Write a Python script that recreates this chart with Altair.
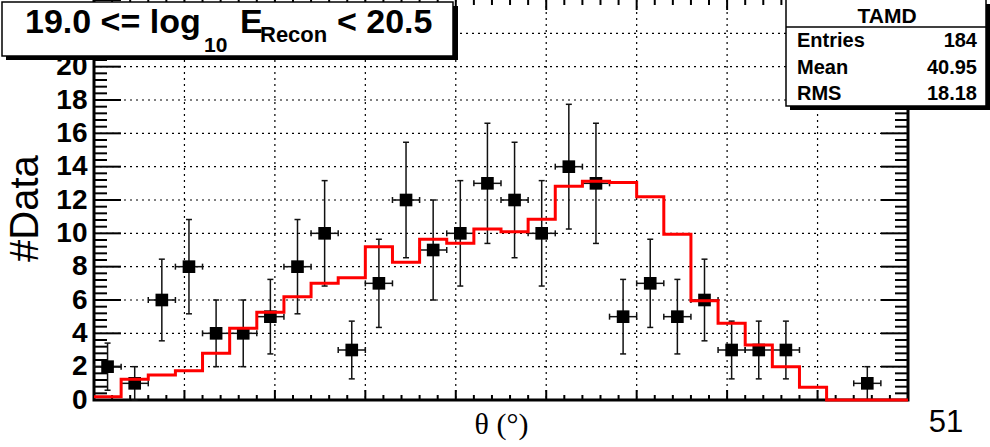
import altair as alt
import numpy as np
import pandas as pd

# ---- histogram contents -------------------------------------------------
bin_width = 3.0
theta_min, theta_max = 0.0, 90.0
y_max = 24.0

# observed counts per 3-degree bin
data_counts = [2, 1, 6, 8, 4, 4, 5, 8, 10, 3, 7, 12, 9, 10, 13,
               12, 10, 14, 13, 5, 7, 5, 6, 3, 3, 3, 0, 0, 1, 0]
# normalised simulation per bin
mc_counts = [0.20, 1.24, 1.50, 1.76, 2.80, 4.30, 5.27, 6.20, 7.00, 7.34,
             9.20, 8.26, 9.64, 9.40, 10.26, 10.10, 10.84, 12.83, 13.13, 13.05,
             12.20, 9.94, 5.95, 4.60, 3.30, 2.00, 0.76, 0.00, 0.00, 0.00]

y_label_values = [0, 2, 4, 6, 8, 10, 12, 14, 16, 18, 20]
x_grid_values = [10, 20, 30, 40, 50, 60, 70, 80]
y_grid_values = [2, 4, 6, 8, 10, 12, 14, 16, 18, 20, 22]
x_major_ticks = [0, 10, 20, 30, 40, 50, 60, 70, 80, 90]
y_major_ticks = [0, 2, 4, 6, 8, 10, 12, 14, 16, 18, 20, 22, 24]

title_parts = ["19.0 <= log", "10", "E", "Recon", "< 20.5"]
stats_title = ["TAMD"]
stats_names = ["Entries", "Mean", "RMS"]
stats_values = ["184", "40.95", "18.18"]
page_number = ["51"]
x_title = "θ (°)"
y_title = "#Data"

# ---- derived tables -----------------------------------------------------
n_bins = len(data_counts)
counts = np.array(data_counts, dtype=float)
centers = theta_min + bin_width * (np.arange(n_bins) + 0.5)
errs = np.sqrt(counts)
pts = pd.DataFrame({
    "c": centers, "n": counts,
    "lo": counts - errs, "hi": counts + errs,
    "xlo": centers - bin_width / 2, "xhi": centers + bin_width / 2,
})
pts = pts[pts["n"] > 0]

edges = theta_min + bin_width * np.arange(n_bins + 1)
mc = pd.DataFrame({"x": edges, "y": mc_counts + [mc_counts[-1]]})

x_minor = [v for v in np.arange(theta_min, theta_max + 0.01, 2.0) if v % 10 != 0]
y_minor = [round(v, 2) for v in np.arange(0, y_max + 0.01, 0.4)
           if abs(v / 2 - round(v / 2)) > 1e-6]

W, H = 814, 400
FONT = "Liberation Sans"

xs = alt.Scale(domain=[theta_min, theta_max], nice=False, zero=False)
ys = alt.Scale(domain=[0, y_max], nice=False, zero=True)

x_axis = alt.Axis(labels=False, ticks=False, tickSize=0, domain=False, grid=False,
                  title=x_title, titleFont="Liberation Serif", titleFontSize=30,
                  titleFontWeight="normal", titleColor="black",
                  titleBaseline="alphabetic", titleY=33)
y_axis = alt.Axis(values=y_label_values, ticks=False, tickSize=0, domain=False,
                  grid=False, labelFont=FONT, labelFontSize=28,
                  labelFontWeight="bold", labelColor="black", labelPadding=7,
                  title=y_title, titleFont=FONT, titleFontSize=40,
                  titleFontWeight="normal", titleColor="black", titleAngle=270,
                  titleAlign="center", titleBaseline="alphabetic",
                  titleX=-57, titleY=208)


def X(field):
    return alt.X(field, type="quantitative", scale=xs, axis=x_axis)


def Y(field):
    return alt.Y(field, type="quantitative", scale=ys, axis=y_axis)


one = pd.DataFrame({"k": [0]})


def vals(v):
    return pd.DataFrame({"v": v})


def txt(s):
    return pd.DataFrame({"t": s})


dotted = dict(color="black", strokeWidth=1.2, strokeDash=[2, 4])

# dotted grid
grid_x = alt.Chart(vals(x_grid_values)).mark_rule(**dotted).encode(
    x=X("v"), y=alt.value(0), y2=alt.value(H))
grid_y = alt.Chart(vals(y_grid_values)).mark_rule(**dotted).encode(
    y=Y("v"), x=alt.value(0), x2=alt.value(W))

# ticks drawn inward on all four sides
tick_style = dict(color="black", strokeWidth=2)
ticks = []
for values, length in ((y_major_ticks, 27), (y_minor, 13)):
    ticks.append(alt.Chart(vals(values)).mark_rule(**tick_style).encode(
        y=Y("v"), x=alt.value(0), x2=alt.value(length)))
    ticks.append(alt.Chart(vals(values)).mark_rule(**tick_style).encode(
        y=Y("v"), x=alt.value(W - length), x2=alt.value(W)))
for values, length in ((x_major_ticks, 10), (x_minor, 5)):
    ticks.append(alt.Chart(vals(values)).mark_rule(**tick_style).encode(
        x=X("v"), y=alt.value(H - length), y2=alt.value(H)))
    ticks.append(alt.Chart(vals(values)).mark_rule(**tick_style).encode(
        x=X("v"), y=alt.value(0), y2=alt.value(length)))

frame = alt.Chart(one).mark_rect(fillOpacity=0, stroke="black", strokeWidth=3).encode(
    x=alt.value(0), x2=alt.value(W), y=alt.value(-6), y2=alt.value(H))

# data points with sqrt(N) errors and bin-width horizontal bars
err_style = dict(color="#111111", strokeWidth=1.5)
v_bar = alt.Chart(pts).mark_rule(**err_style).encode(
    x=X("c"), y=Y("lo"), y2="hi:Q")
v_cap_hi = alt.Chart(pts).mark_rule(xOffset=-3, x2Offset=3, **err_style).encode(
    x=X("c"), x2="c:Q", y=Y("hi"))
v_cap_lo = alt.Chart(pts).mark_rule(xOffset=-3, x2Offset=3, **err_style).encode(
    x=X("c"), x2="c:Q", y=Y("lo"))
h_bar = alt.Chart(pts).mark_rule(**err_style).encode(
    x=X("xlo"), x2="xhi:Q", y=Y("n"))
h_cap_l = alt.Chart(pts).mark_rule(yOffset=-3, y2Offset=3, **err_style).encode(
    x=X("xlo"), y=Y("n"), y2="n:Q")
h_cap_r = alt.Chart(pts).mark_rule(yOffset=-3, y2Offset=3, **err_style).encode(
    x=X("xhi"), y=Y("n"), y2="n:Q")
markers = alt.Chart(pts).mark_point(shape="square", filled=True, size=160,
                                    color="black", opacity=1).encode(
    x=X("c"), y=Y("n"))

mc_line = alt.Chart(mc).mark_line(interpolate="step-after", color="#ff0000",
                                  strokeWidth=3).encode(x=X("x"), y=Y("y"))

# energy-range label box
bold = dict(font=FONT, fontWeight="bold", color="black", baseline="alphabetic",
            align="left")
tbox_shadow = alt.Chart(one).mark_rect(color="black").encode(
    x=alt.value(-88), x2=alt.value(364), y=alt.value(6), y2=alt.value(60))
tbox = alt.Chart(one).mark_rect(fill="white", stroke="black", strokeWidth=1.5).encode(
    x=alt.value(-92), x2=alt.value(359), y=alt.value(2), y2=alt.value(56))
title_layers = []
for part, px, py, fs in zip(title_parts, [-69, 110, 146, 166, 243],
                            [33, 52, 33, 42, 33], [34, 21, 34, 22, 34]):
    title_layers.append(alt.Chart(txt([part])).mark_text(fontSize=fs, **bold).encode(
        text="t:N", x=alt.value(px), y=alt.value(py)))

# statistics box
sbox_shadow = alt.Chart(one).mark_rect(color="black").encode(
    x=alt.value(696), x2=alt.value(896), y=alt.value(4), y2=alt.value(110))
sbox = alt.Chart(one).mark_rect(fill="white", stroke="black", strokeWidth=1.5).encode(
    x=alt.value(692), x2=alt.value(892), y=alt.value(-1), y2=alt.value(106))
sbox_sep = alt.Chart(one).mark_rule(color="black", strokeWidth=1.5).encode(
    x=alt.value(692), x2=alt.value(892), y=alt.value(27))
stats_layers = [alt.Chart(txt(stats_title)).mark_text(
    fontSize=21, **{**bold, "align": "center"}).encode(
    text="t:N", x=alt.value(793), y=alt.value(23))]
for name, value, py in zip(stats_names, stats_values, [47, 74, 100]):
    stats_layers.append(alt.Chart(txt([name])).mark_text(fontSize=20, **bold).encode(
        text="t:N", x=alt.value(703), y=alt.value(py)))
    stats_layers.append(alt.Chart(txt([value])).mark_text(
        fontSize=20, **{**bold, "align": "right"}).encode(
        text="t:N", x=alt.value(883), y=alt.value(py)))

page = alt.Chart(txt(page_number)).mark_text(
    font=FONT, fontSize=31, color="black", align="center",
    baseline="alphabetic").encode(text="t:N", x=alt.value(852), y=alt.value(432))

chart = alt.layer(
    grid_x, grid_y, *ticks, frame,
    v_bar, v_cap_hi, v_cap_lo, h_bar, h_cap_l, h_cap_r, markers,
    mc_line,
    tbox_shadow, tbox, *title_layers,
    sbox_shadow, sbox, sbox_sep, *stats_layers,
    page,
).properties(
    width=W, height=H,
    autosize=alt.AutoSizeParams(type="none"),
    padding={"left": 94, "right": 82, "top": 0, "bottom": 47},
    background="white",
).configure_view(strokeWidth=0)

chart.save("out.html", embed_options={"renderer": "svg", "actions": False})
